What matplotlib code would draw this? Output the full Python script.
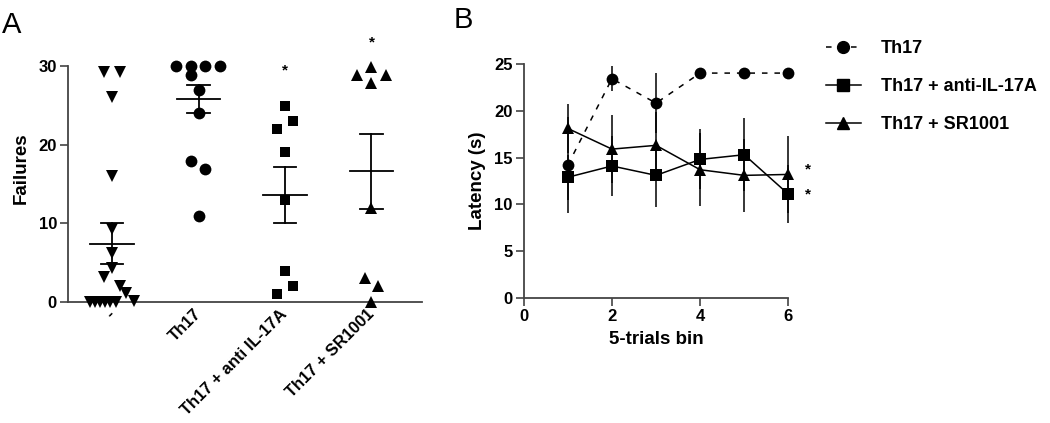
#!/usr/bin/env python3
"""Failures per group (A) and latency over 5-trial bins (B)."""

import matplotlib
matplotlib.use("Agg")
import matplotlib.pyplot as plt
from matplotlib.lines import Line2D

plt.rcParams["font.family"] = ["Liberation Sans", "DejaVu Sans"]
plt.rcParams["lines.scale_dashes"] = False

# --- Panel A data: individual failures per group ---
groups = ["-", "Th17", "Th17 + anti IL-17A", "Th17 + SR1001"]
ctrl_vals = [29.2, 29.2, 26.0, 16.0, 9.3, 6.2, 4.3, 3.2, 2.0, 1.2, 0.1, 0, 0, 0, 0, 0, 0]
ctrl_jit = [-0.09, 0.09, 0, 0, 0, 0, 0, -0.09, 0.09, 0.16, 0.25, -0.26, -0.2, -0.14, -0.08, -0.02, 0.05]
th17_vals = [30, 30, 30, 30, 28.8, 26.9, 24.0, 17.9, 16.9, 10.9]
th17_jit = [-0.26, -0.09, 0.08, 0.25, -0.09, 0, 0, -0.09, 0.08, 0]
anti_vals = [24.9, 23.0, 22.0, 19.0, 13.0, 4.0, 2.0, 1.0]
anti_jit = [0, 0.09, -0.09, 0, 0, 0, 0.09, -0.09]
sr_vals = [29.9, 28.8, 28.8, 27.8, 11.9, 3.0, 2.0, 0]
sr_jit = [0, -0.17, 0.17, 0, 0, -0.08, 0.08, 0]
group_mean = [7.4, 25.8, 13.6, 16.6]
group_hi = [10.0, 27.6, 17.2, 21.4]
group_lo = [4.8, 24.0, 10.1, 11.8]
star_a = {2: 29.4, 3: 33.0}

# --- Panel B data: latency (s) per bin, mean +/- SEM ---
bins = [1, 2, 3, 4, 5, 6]
lat_th17 = [14.2, 23.4, 20.8, 24.0, 24.0, 24.0]
err_th17 = [5.1, 1.35, 3.2, 0, 0, 0]
lat_anti = [12.9, 14.1, 13.1, 14.8, 15.3, 11.1]
err_anti = [2.4, 3.2, 3.4, 3.2, 3.9, 3.1]
lat_sr = [18.1, 15.9, 16.3, 13.7, 13.1, 13.2]
err_sr = [2.6, 3.6, 3.5, 3.9, 3.9, 4.1]
star_b = [13.7, 11.1]

AX_COL = "#444444"
fig = plt.figure(figsize=(10.5, 4.23), dpi=100)

# ---------------- Panel A ----------------
ax = fig.add_axes([0.0648, 0.286, 0.3371, 0.6326])
series = [
    (ctrl_vals, ctrl_jit, "v", 8.5),
    (th17_vals, th17_jit, "o", 8.5),
    (anti_vals, anti_jit, "s", 7.5),
    (sr_vals, sr_jit, "^", 8.5),
]
for i, (vals, jit, mk, ms) in enumerate(series):
    xs = [i + j for j in jit]
    ax.plot(xs, vals, linestyle="none", marker=mk, markersize=ms, color="black",
            markeredgewidth=0, clip_on=False, zorder=3)
    ax.plot([i - 0.25, i + 0.25], [group_mean[i]] * 2, color="black", lw=1.3, zorder=4)
    ax.plot([i, i], [group_lo[i], group_hi[i]], color="black", lw=1.3, zorder=4)
    for y in (group_lo[i], group_hi[i]):
        ax.plot([i - 0.13, i + 0.13], [y, y], color="black", lw=1.3, zorder=4)
for i, y in star_a.items():
    ax.text(i, y, "*", ha="center", va="center", fontsize=11, fontweight="bold")

ax.set_xlim(-0.509, 3.584)
ax.set_ylim(0, 34)
ax.set_yticks([0, 10, 20, 30])
ax.set_xticks(range(len(groups)))
ax.set_xticklabels(groups, rotation=45, ha="right", va="center",
                   rotation_mode="anchor", fontsize=12, fontweight="bold")
ax.tick_params(axis="x", length=0, pad=7)
ax.tick_params(axis="y", length=6, width=1.2, color=AX_COL, labelsize=12, pad=2)
for lab in ax.get_yticklabels():
    lab.set_fontweight("bold")
for s in ("top", "right"):
    ax.spines[s].set_visible(False)
for s in ("left", "bottom"):
    ax.spines[s].set_color(AX_COL)
    ax.spines[s].set_linewidth(1.3)
ax.spines["left"].set_bounds(0, 30)
ax.set_ylabel("Failures", fontsize=13.5, fontweight="bold", labelpad=6)

# ---------------- Panel B ----------------
bx = fig.add_axes([0.4988, 0.2948, 0.252, 0.5546])
eb_kw = dict(color="black", ecolor="black", elinewidth=1.1, capsize=3.8,
             capthick=1.1, lw=1.1, markeredgewidth=0, clip_on=False)
bx.errorbar(bins, lat_th17, yerr=err_th17, marker="o", markersize=8.5,
            dashes=(4, 5), zorder=3, **eb_kw)
bx.errorbar(bins, lat_anti, yerr=err_anti, marker="s", markersize=8,
            zorder=4, **eb_kw)
bx.errorbar(bins, lat_sr, yerr=err_sr, marker="^", markersize=8.5,
            zorder=5, **eb_kw)
for y in star_b:
    bx.text(6.45, y, "*", ha="center", va="center", fontsize=11, fontweight="bold")

bx.set_xlim(0, 6)
bx.set_ylim(0, 25)
bx.set_xticks([0, 2, 4, 6])
bx.set_yticks([0, 5, 10, 15, 20, 25])
bx.tick_params(length=6, width=1.2, color=AX_COL, labelsize=12, pad=2)
for lab in bx.get_xticklabels() + bx.get_yticklabels():
    lab.set_fontweight("bold")
for s in ("top", "right"):
    bx.spines[s].set_visible(False)
for s in ("left", "bottom"):
    bx.spines[s].set_color(AX_COL)
    bx.spines[s].set_linewidth(1.3)
bx.set_xlabel("5-trials bin", fontsize=13.5, fontweight="bold", labelpad=5)
bx.set_ylabel("Latency (s)", fontsize=13.5, fontweight="bold", labelpad=6)

handles = [
    Line2D([], [], color="black", lw=1.1, dashes=(4, 5), marker="o", markersize=8.5),
    Line2D([], [], color="black", lw=1.1, marker="s", markersize=8),
    Line2D([], [], color="black", lw=1.1, marker="^", markersize=8.5),
]
fig.legend(handles, ["Th17", "Th17 + anti-IL-17A", "Th17 + SR1001"],
           loc="upper left", bbox_to_anchor=(0.771, 0.943), frameon=False,
           prop={"weight": "bold", "size": 13}, handlelength=1.95,
           handletextpad=1.1, labelspacing=1.15)

fig.text(0.002, 0.975, "A", fontsize=21, va="top", ha="left")
fig.text(0.432, 0.985, "B", fontsize=21, va="top", ha="left")

fig.savefig("out.png", dpi=100)
